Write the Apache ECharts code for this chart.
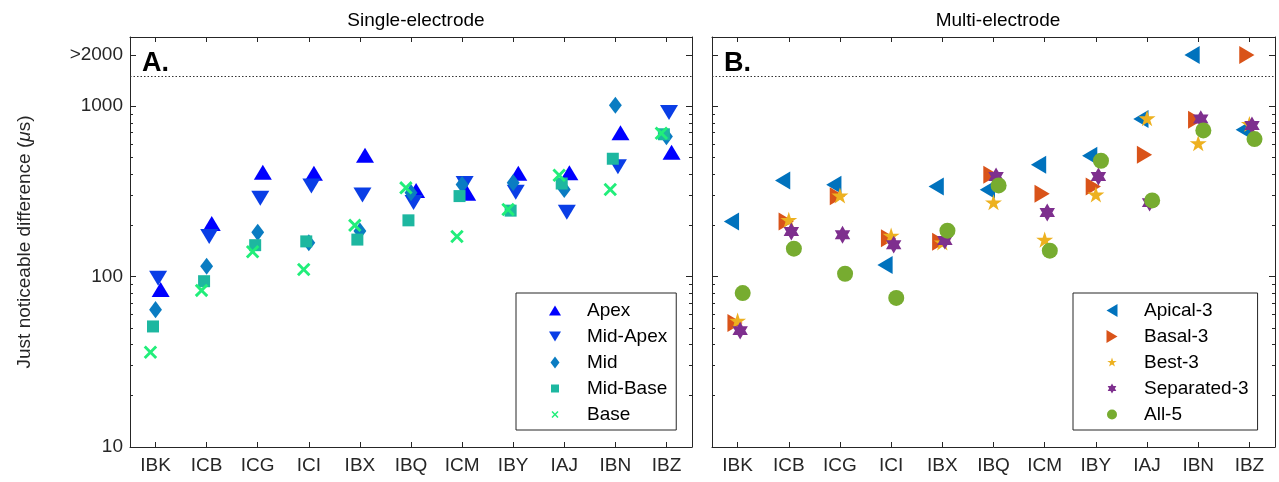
<!DOCTYPE html>
<html><head><meta charset="utf-8">
<script src="https://cdn.jsdelivr.net/npm/echarts@6/dist/echarts.min.js"></script>
<style>html,body{margin:0;padding:0;background:#fff}#c{width:1279px;height:482px}</style>
</head><body><div id="c"></div>
<script>
// ---------- data ----------
const categories = ['IBK','ICB','ICG','ICI','IBX','IBQ','ICM','IBY','IAJ','IBN','IBZ'];
const yTickValues = [10, 100, 1000, 2000];
const yTickLabels = ['10', '100', '1000', '>2000'];
const yMinorTicks = [20,30,40,50,60,70,80,90,200,300,400,500,600,700,800,900];
const capLine = 1500;   // dotted line separating the ">2000" row

// Single-electrode
const apex     = [84, 205, 410, 405, 515, 320, 309, 405, 407, 700, 538];
const midApex  = [98, 172, 288, 340, 301, 272, 352, 313, 239, 442, 918];
const mid      = [64, 115, 182, 158, 185, 311, 347, 356, 325, 1014, 664];
const midBase  = [51, 94, 153, 161, 165, 214, 297, 244, 352, 492, 685];
const base     = [36, 83, 140, 110, 200, 332, 172, 248, 394, 325, 694];

// Multi-electrode (values beyond 2000 shown at 2000)
const apical3    = [211, 367, 346, 117, 338, 324, 454, 513, 841, 2000, 728];
const basal3     = [53.4, 211, 296, 168, 160, 396, 307, 338, 519, 834, 2000];
const best3      = [54.6, 213, 296, 172, 157, 270, 163, 300, 841, 600, 778];
const separated3 = [48.2, 184, 176, 154, 163, 387, 238, 387, 272, 841, 771];
const all5       = [80.1, 146, 104, 75, 186, 343, 142, 479, 280, 721, 642];

// ---------- styling ----------
const FONT = '"Liberation Sans", Arial, Helvetica, sans-serif';
const AX = '#262626';
const FS = 19;
const YMIN = 10, YMAX = 2550;
const catPos = categories.map((_, i) => i + 1);

const PAD = 'M-14,-14L-14,-14M14,14L14,14';
const shapes = {
  up: 'M0,-10L12,10L-12,10Z',
  down: 'M0,10L-12,-10L12,-10Z',
  diamond: 'M0,-12L9,0L0,12L-9,0Z',
  square: 'M-8,-8L8,-8L8,8L-8,8Z',
  cross: 'M-4.88,-7L0,-2.12L4.88,-7L7,-4.88L2.12,0L7,4.88L4.88,7L0,2.12L-4.88,7L-7,4.88L-2.12,0L-7,-4.88Z',
  left: 'M-11,0L11,-13L11,13Z',
  right: 'M11,0L-11,13L-11,-13Z',
  star: 'M0,-10L2.245,-3.09L9.511,-3.09L3.633,1.18L5.878,8.09L0,3.82L-5.878,8.09L-3.633,1.18L-9.511,-3.09L-2.245,-3.09Z',
  hexagram: 'M0,-10L8.66,5L-8.66,5ZM0,10L-8.66,-5L8.66,-5Z',
  circle: 'M-10,0A10,10,0,1,0,10,0A10,10,0,1,0,-10,0Z'
};
const sym = k => 'path://' + PAD + shapes[k];

function scatter(name, vals, off, shape, size, color, xi, yi, extra) {
  return Object.assign({
    type: 'scatter', name, xAxisIndex: xi, yAxisIndex: yi,
    data: vals.map((v, i) => [i + 1 + off, v]),
    symbol: sym(shape), symbolSize: size, symbolKeepAspect: true,
    itemStyle: { color, opacity: 1, borderWidth: 0 },
    emphasis: { disabled: true }
  }, extra || {});
}

const capMark = {
  markLine: {
    silent: true, symbol: ['none', 'none'], label: { show: false },
    lineStyle: { type: [1.5, 2], color: '#333', width: 1 },
    data: [{ yAxis: capLine }], animation: false
  }
};

function xPair(gridIndex) {
  const common = { type: 'value', gridIndex, min: 0.5, max: 11.5, splitLine: { show: false },
    axisLine: { show: true, onZero: false, lineStyle: { color: AX, width: 1 } } };
  return [
    Object.assign({}, common, { position: 'bottom',
      axisTick: { show: true, inside: true, length: 5, customValues: catPos, lineStyle: { color: AX } },
      axisLabel: { show: true, customValues: catPos, margin: 9, fontSize: FS, color: AX, fontFamily: FONT,
        formatter: v => categories[Math.round(v) - 1] || '' } }),
    Object.assign({}, common, { position: 'top',
      axisTick: { show: true, inside: true, length: 5, customValues: catPos, lineStyle: { color: AX } },
      axisLabel: { show: false } })
  ];
}
function xHidden(gridIndex) {
  return { type: 'value', gridIndex, min: 0.5, max: 11.5, show: false };
}
function yMajor(gridIndex, position, withLabels) {
  const ax = { type: 'log', logBase: 10, gridIndex, position, min: YMIN, max: YMAX,
    splitLine: { show: false },
    axisLine: { show: true, onZero: false, lineStyle: { color: AX, width: 1 } },
    axisTick: { show: true, inside: true, length: 6, customValues: yTickValues, lineStyle: { color: AX } },
    axisLabel: withLabels ? { show: true, customValues: yTickValues, margin: 7, fontSize: FS, color: AX, fontFamily: FONT,
      formatter: v => { const k = yTickValues.findIndex(t => Math.abs(t - v) / t < 1e-6); return k >= 0 ? yTickLabels[k] : ''; } }
      : { show: false } };
  if (withLabels) {
    Object.assign(ax, { name: 'Just noticeable difference ({i|μ}s)', nameLocation: 'middle', nameGap: 96, nameRotate: 90,
      nameTextStyle: { fontSize: FS, color: AX, fontFamily: FONT,
        rich: { i: { fontStyle: 'italic', fontSize: FS, color: AX, fontFamily: FONT } } } });
  }
  return ax;
}
function yMinor(gridIndex, position) {
  return { type: 'log', logBase: 10, gridIndex, position, min: YMIN, max: YMAX,
    splitLine: { show: false }, axisLine: { show: false },
    axisTick: { show: true, inside: true, length: 3, customValues: yMinorTicks, lineStyle: { color: AX } },
    axisLabel: { show: false } };
}

const gL = { left: 130, top: 37, width: 562, height: 410 };
const gR = { left: 712, top: 37, width: 563, height: 410 };

const legendCommon = {
  orient: 'vertical', top: 293, itemWidth: 54, itemHeight: 14, itemGap: 7,
  padding: [8, 9, 6, 32], borderColor: AX, borderWidth: 1, backgroundColor: '#fff',
  textStyle: { fontSize: FS, color: '#000', fontFamily: FONT }, selectedMode: false
};

const option = {
  animation: false,
  backgroundColor: '#fff',
  title: [
    { text: 'Single-electrode', left: 411, top: 6, textAlign: 'center',
      textStyle: { fontSize: FS, fontWeight: 'normal', color: '#000', fontFamily: FONT } },
    { text: 'Multi-electrode', left: 993, top: 6, textAlign: 'center',
      textStyle: { fontSize: FS, fontWeight: 'normal', color: '#000', fontFamily: FONT } },
    { text: 'A.', left: 137, top: 45, textStyle: { fontSize: 27, fontWeight: 'bold', color: '#000', fontFamily: FONT } },
    { text: 'B.', left: 719, top: 45, textStyle: { fontSize: 27, fontWeight: 'bold', color: '#000', fontFamily: FONT } }
  ],
  grid: [gL, Object.assign({}, gL), gR, Object.assign({}, gR)],
  xAxis: [...xPair(0), xHidden(1), ...xPair(2), xHidden(3)],
  yAxis: [yMajor(0, 'left', true), yMajor(0, 'right', false), yMinor(1, 'left'), yMinor(1, 'right'),
          yMajor(2, 'left', false), yMajor(2, 'right', false), yMinor(3, 'left'), yMinor(3, 'right')],
  legend: [
    Object.assign({}, legendCommon, { left: 516, data: ['Apex', 'Mid-Apex', 'Mid', 'Mid-Base', 'Base'] }),
    Object.assign({}, legendCommon, { left: 1073, data: ['Apical-3', 'Basal-3', 'Best-3', 'Separated-3', 'All-5'] })
  ],
  series: [
    scatter('Apex', apex, 0.10, 'up', 21, '#0000ff', 0, 0, capMark),
    scatter('Mid-Apex', midApex, 0.05, 'down', 21, '#0a3ee6', 0, 0),
    scatter('Mid', mid, 0.0, 'diamond', 20, '#0a7cc2', 0, 0),
    scatter('Mid-Base', midBase, -0.05, 'square', 21, '#1db7a0', 0, 0),
    scatter('Base', base, -0.10, 'cross', 27, '#21ee7a', 0, 0),

    scatter('Apical-3', apical3, -0.12, 'left', 19.4, '#0072bd', 3, 4, capMark),
    scatter('Basal-3', basal3, -0.05, 'right', 19.4, '#d95319', 3, 4),
    scatter('Best-3', best3, 0.0, 'star', 25, '#edb120', 3, 4),
    scatter('Separated-3', separated3, 0.05, 'hexagram', 25, '#7e2f8e', 3, 4),
    scatter('All-5', all5, 0.10, 'circle', 22.4, '#77ac30', 3, 4)
  ]
};

const chart = echarts.init(document.getElementById('c'));
chart.setOption(option);
</script>
</body></html>
